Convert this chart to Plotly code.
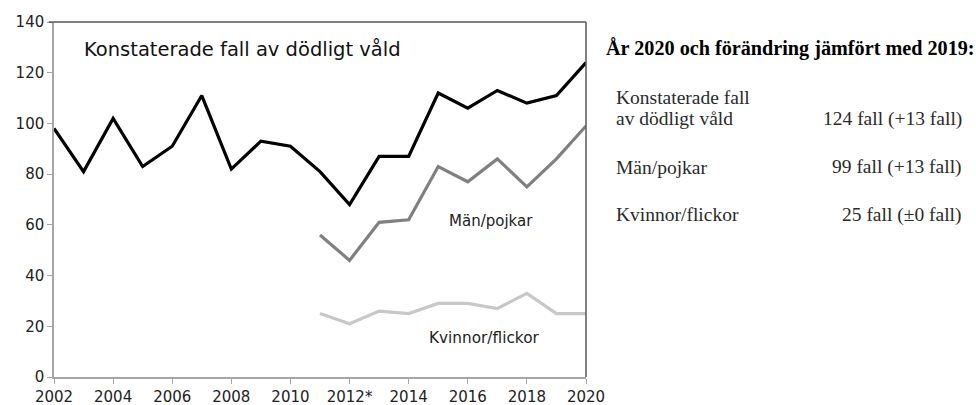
import plotly.graph_objects as go

years = list(range(2002, 2021))
total = [98, 81, 102, 83, 91, 111, 82, 93, 91, 81, 68, 87, 87, 112, 106, 113, 108, 111, 124]
men_years = list(range(2011, 2021))
men = [56, 46, 61, 62, 83, 77, 86, 75, 86, 99]
women = [25, 21, 26, 25, 29, 29, 27, 33, 25, 25]
x_tickvals = [2002, 2004, 2006, 2008, 2010, 2012, 2014, 2016, 2018, 2020]
x_ticktext = ["2002", "2004", "2006", "2008", "2010", "2012*", "2014", "2016", "2018", "2020"]
y_tickvals = [0, 20, 40, 60, 80, 100, 120, 140]

W, H = 976, 405
ML, MR, MT, MB = 54, 390, 22, 28

fig = go.Figure()
fig.add_trace(go.Scatter(x=years, y=total, mode="lines", line=dict(color="#000000", width=3.2), hoverinfo="skip"))
fig.add_trace(go.Scatter(x=men_years, y=men, mode="lines", line=dict(color="#808080", width=3.2), hoverinfo="skip"))
fig.add_trace(go.Scatter(x=men_years, y=women, mode="lines", line=dict(color="#c8c8c8", width=3.2), hoverinfo="skip"))

sans = "DejaVu Sans"
axis_font = dict(family=sans, size=15, color="#222222")
fig.update_layout(
    width=W, height=H,
    margin=dict(l=ML, r=MR, t=MT, b=MB, autoexpand=False),
    paper_bgcolor="white", plot_bgcolor="white",
    showlegend=False,
    xaxis=dict(range=[2002, 2020], tickvals=x_tickvals, ticktext=x_ticktext, automargin=False,
               showgrid=False, zeroline=False, showline=True, linecolor="#a6a6a6", linewidth=1.5,
               ticks="outside", ticklen=5, tickcolor="#a6a6a6", tickfont=axis_font),
    yaxis=dict(range=[0, 140], tickvals=y_tickvals, automargin=False,
               showgrid=False, zeroline=False, showline=True, linecolor="#a6a6a6", linewidth=1.5,
               ticks="outside", ticklen=5, tickcolor="#a6a6a6", tickfont=axis_font),
)
# frame top & right
fig.add_shape(type="line", xref="paper", yref="paper", x0=-0.01, x1=1, y0=1, y1=1, line=dict(color="#595959", width=1.5))
fig.add_shape(type="line", xref="paper", yref="paper", x0=1, x1=1, y0=0, y1=1, line=dict(color="#595959", width=1.5))

pw = W - ML - MR
ph = H - MT - MB
def px(xp):
    return (xp - ML) / pw
def py(yp):
    return (H - MB - yp) / ph

fig.add_annotation(x=px(82), y=py(49), xref="paper", yref="paper", text="Konstaterade fall av dödligt våld",
                   showarrow=False, xanchor="left", yanchor="middle", font=dict(family=sans, size=19.5, color="#111111"))
fig.add_annotation(x=px(491), y=py(221), xref="paper", yref="paper", text="Män/pojkar", showarrow=False,
                   xanchor="center", yanchor="middle", font=dict(family=sans, size=15, color="#222222"))
fig.add_annotation(x=px(484), y=py(338), xref="paper", yref="paper", text="Kvinnor/flickor", showarrow=False,
                   xanchor="center", yanchor="middle", font=dict(family=sans, size=15.3, color="#222222"))

serif = "Liberation Serif, Times New Roman"
fig.add_annotation(x=px(604), y=py(48), xref="paper", yref="paper", text="<b>År 2020 och förändring jämfört med 2019:</b>",
                   showarrow=False, xanchor="left", yanchor="middle",
                   font=dict(family=serif, size=20.2, color="#000000"))
rows = [
    ("Konstaterade fall", None, 97),
    ("av dödligt våld", "124 fall (+13 fall)", 119),
    ("Män/pojkar", "99 fall (+13 fall)", 167),
    ("Kvinnor/flickor", "25 fall (±0 fall)", 215),
]
for label, val, y in rows:
    fig.add_annotation(x=px(614), y=py(y), xref="paper", yref="paper", text=label, showarrow=False,
                       xanchor="left", yanchor="middle", align="left",
                       font=dict(family=serif, size=19.5, color="#2a2a2a"))
    if val:
        fig.add_annotation(x=px(964), y=py(y), xref="paper", yref="paper", text=val, showarrow=False,
                           xanchor="right", yanchor="middle", align="right",
                           font=dict(family=serif, size=19.5, color="#2a2a2a"))

fig.write_html("out.html", config={"displayModeBar": False},
               post_script="document.body.style.margin='0px';document.body.style.padding='0px';")
